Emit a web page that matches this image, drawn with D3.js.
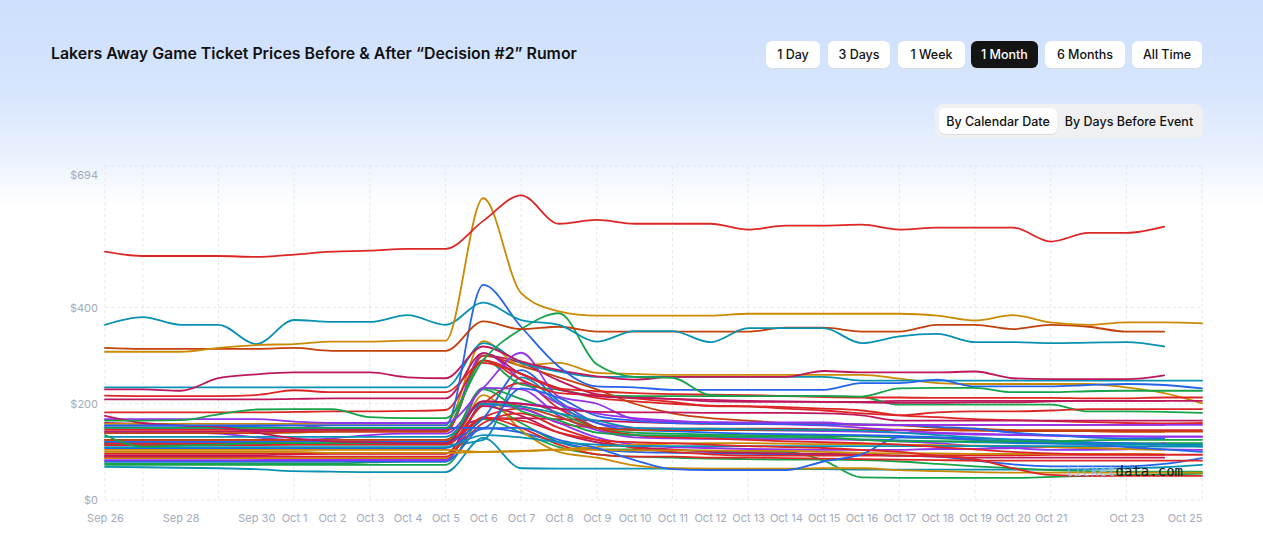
<!DOCTYPE html>
<html><head><meta charset="utf-8">
<script src="https://cdn.jsdelivr.net/npm/d3@7"></script>
<style>
html,body{margin:0;padding:0;width:1263px;height:547px;overflow:hidden;background:#fff;}
svg{display:block;font-family:Inter,"Noto Sans",sans-serif;}
</style></head><body>
<svg id="chart" width="1263" height="547"></svg>
<script>
const dates = ["Sep 26","Sep 27","Sep 28","Sep 29","Sep 30","Oct 1","Oct 2","Oct 3","Oct 4","Oct 5","Oct 6","Oct 7","Oct 8","Oct 9","Oct 10","Oct 11","Oct 12","Oct 13","Oct 14","Oct 15","Oct 16","Oct 17","Oct 18","Oct 19","Oct 20","Oct 21","Oct 22","Oct 23","Oct 24","Oct 25"];
const tickLabels = ["Sep 26","Sep 28","Sep 30","Oct 1","Oct 2","Oct 3","Oct 4","Oct 5","Oct 6","Oct 7","Oct 8","Oct 9","Oct 10","Oct 11","Oct 12","Oct 13","Oct 14","Oct 15","Oct 16","Oct 17","Oct 18","Oct 19","Oct 20","Oct 21","Oct 23","Oct 25"];
const gridDates = ["Sep 26","Sep 27","Sep 29","Oct 1","Oct 3","Oct 5","Oct 7","Oct 9","Oct 11","Oct 13","Oct 15","Oct 17","Oct 19","Oct 21","Oct 23","Oct 25"];
const yTicks = [0,200,400,694];
const yMax = 694;
const rangeButtons = ["1 Day","3 Days","1 Week","1 Month","6 Months","All Time"];
const activeRange = "1 Month";
const viewButtons = ["By Calendar Date","By Days Before Event"];
const title = "Lakers Away Game Ticket Prices Before & After \u201cDecision #2\u201d Rumor";

const palette = {red:"#dc2626",gold:"#ca8a04",teal:"#0891b2",orange:"#c2410c",green:"#16a34a",blue:"#2563eb",crimson:"#be185d",purple:"#9333ea"};

const s01 = [516,507,507,507,505,510,516,518,522,522,580,633,574,582,574,574,574,562,570,570,572,562,566,566,566,537,555,555,568,null];
const s02 = [308,308,308,316,322,324,329,329,331,331,627,430,392,383,383,383,383,387,387,387,387,387,383,373,384,369,364,369,369,367];
const s03 = [364,380,364,364,324,374,370,370,384,364,410,374,364,329,351,351,328,357,357,357,326,340,345,328,328,326,327,328,319,null];
const s04 = [316,314,314,314,314,316,310,310,310,310,371,355,360,350,350,350,350,350,358,358,350,350,364,364,355,364,360,350,350,null];
const s05 = [165,165,166,178,188,189,189,172,170,170,291,355,388,282,256,254,218,216,216,216,215,232,233,233,224,224,226,227,227,227];
const s06 = [155,155,155,155,155,155,155,155,155,155,447,360,277,236,234,229,229,229,229,229,243,243,250,236,236,236,239,241,239,232];
const s07 = [230,230,227,253,261,265,265,265,255,253,319,288,270,257,250,256,256,256,256,268,265,265,265,267,253,251,251,251,259,null];
const s08 = [234,234,234,234,234,234,234,234,234,234,326,285,267,256,256,256,256,256,256,256,248,248,248,248,248,248,248,248,248,248];
const s09 = [217,216,216,216,218,228,224,224,224,224,285,262,232,226,222,220,219,218,216,214,213,213,212,212,212,212,211,211,213,213];
const s10 = [209,209,209,209,209,210,211,211,211,211,305,262,230,216,212,210,208,206,205,204,203,202,202,203,203,205,206,206,206,206];
const s11 = [182,182,182,182,182,183,184,184,185,187,290,250,222,218,211,204,195,194,190,186,180,176,182,184,184,186,189,189,189,189];
const s12 = [175,160,155,152,140,128,122,120,118,118,205,200,190,183,182,182,181,181,181,180,176,165,165,165,165,165,165,165,165,165];
const s13 = [168,168,168,168,168,163,160,160,160,160,233,306,215,200,168,163,162,161,161,161,156,156,156,156,156,156,156,156,156,156];
const s14 = [150,150,150,150,150,150,150,150,150,150,290,240,229,217,216,216,216,216,216,216,214,198,198,198,198,198,184,184,183,181];
const s15 = [158,158,158,158,158,158,158,158,158,158,330,280,285,264,262,260,260,260,260,260,260,252,243,241,241,241,241,234,222,201];
const s16 = [154,154,154,154,152,150,150,150,150,150,150,232,212,175,165,160,159,158,158,157,157,156,152,148,140,135,130,128,128,null];
const s17 = [150,150,150,150,155,155,150,150,148,148,305,250,200,180,170,165,160,158,157,155,150,145,140,138,136,134,133,132,132,132];
const s18 = [139,139,139,139,139,140,142,142,142,142,300,278,255,230,200,180,170,165,160,158,156,155,150,148,145,144,143,142,142,null];
const s19 = [135,111,113,115,118,118,118,118,118,118,230,185,165,140,135,134,133,132,131,130,125,122,122,122,122,122,124,125,125,125];
const s20 = [131,131,131,131,131,131,131,131,131,131,200,194,180,165,150,148,148,147,146,146,144,140,135,130,125,120,117,116,115,111];
const s21 = [125,125,125,125,125,125,125,125,125,125,205,195,172,150,145,145,145,145,145,145,145,145,145,144,143,143,143,142,142,142];
const s22 = [121,121,121,121,121,122,122,122,122,122,170,270,205,160,145,143,140,138,137,136,135,133,130,125,120,118,115,110,105,100];
const s23 = [118,118,118,118,118,117,116,116,116,116,200,243,190,150,135,130,128,125,122,120,118,115,110,105,100,97,95,95,94,94];
const s24 = [114,114,114,114,114,115,115,115,115,115,170,165,140,125,120,118,115,112,110,108,104,100,92,85,66,52,50,50,50,50];
const s25 = [110,110,110,110,110,110,110,110,110,110,135,130,120,115,112,112,112,112,112,112,112,112,112,112,112,112,112,112,111,111];
const s26 = [108,108,108,108,108,108,108,108,108,108,148,150,125,108,83,64,62,62,62,80,95,130,130,128,126,124,120,118,115,112];
const s27 = [104,104,104,104,104,104,104,104,104,104,100,101,105,110,115,117,118,118,117,116,116,115,114,113,112,110,108,106,104,null];
const s28 = [100,100,100,100,100,100,98,98,98,98,100,102,104,104,103,103,103,102,102,100,98,97,97,96,96,96,96,96,95,null];
const s29 = [97,97,97,97,97,97,97,97,97,97,160,180,150,125,108,100,95,92,92,92,92,92,93,93,93,94,94,94,94,null];
const s30 = [93,93,93,93,93,95,96,96,96,96,195,175,140,120,110,105,100,98,97,96,95,92,90,88,88,88,88,88,88,null];
const s31 = [90,90,90,90,90,90,90,90,90,90,172,150,115,95,90,90,88,88,87,86,85,84,83,82,82,82,82,82,82,82];
const s32 = [87,87,87,87,87,87,87,87,87,87,218,145,100,88,72,66,65,65,65,66,66,62,60,58,57,57,57,57,57,57];
const s33 = [83,83,83,83,83,83,83,83,83,83,198,190,160,130,115,110,108,106,105,104,104,104,106,106,108,110,108,106,105,104];
const s34 = [80,80,80,80,80,80,80,80,80,80,150,140,120,105,100,98,97,96,95,94,94,92,90,82,74,70,70,70,75,87];
const s35 = [76,76,76,76,76,76,76,78,80,80,200,160,120,105,105,104,102,100,100,82,47,46,46,46,46,48,50,52,53,55];
const s36 = [73,73,73,73,73,73,73,73,73,73,168,140,110,95,90,88,86,85,84,84,83,80,75,70,66,62,60,59,59,59];
const s37 = [69,68,67,66,64,60,59,58,58,58,129,66,65,65,65,65,64,64,64,64,63,63,63,63,63,63,64,66,68,73];
const s38 = [88,88,88,88,86,84,84,84,84,84,233,230,175,145,130,128,127,127,126,126,125,122,118,112,108,104,104,105,118,null];
const s39 = [125,125,125,125,125,124,122,122,122,122,172,190,160,150,148,148,148,148,148,147,146,146,145,145,145,145,145,145,145,145];
const s40 = [115,115,115,115,115,115,115,115,115,115,125,255,200,150,135,133,131,130,128,127,126,124,122,120,118,117,116,115,115,115];
const s41 = [140,140,140,138,130,125,128,135,138,138,205,200,190,160,150,148,146,145,144,143,142,140,138,136,135,134,133,132,131,131];
const s42 = [118,118,118,118,118,118,118,118,118,118,233,210,180,150,140,138,136,135,134,133,132,130,128,125,122,120,119,118,118,118];
const s43 = [160,158,155,150,146,146,146,146,146,146,168,170,168,165,162,160,158,158,158,158,157,156,156,156,156,156,156,156,156,null];
const s44 = [146,146,146,146,146,146,146,146,146,146,290,262,232,212,205,200,196,195,193,190,186,176,172,168,166,164,162,160,159,160];
const s45 = [142,142,142,142,142,142,142,142,142,142,300,285,248,220,214,210,205,204,204,204,204,206,206,206,206,206,206,206,206,null];

const seriesList = [
  [s45,"crimson"],[s44,"red"],[s43,"crimson"],[s42,"green"],[s41,"purple"],[s40,"teal"],[s39,"red"],[s38,"purple"],
  [s37,"teal"],[s36,"green"],[s35,"green"],[s34,"blue"],[s33,"purple"],[s32,"gold"],[s31,"red"],[s30,"crimson"],
  [s29,"red"],[s28,"gold"],[s27,"gold"],[s26,"blue"],[s25,"teal"],[s24,"red"],[s23,"red"],[s22,"blue"],
  [s21,"orange"],[s20,"teal"],[s19,"green"],[s18,"orange"],[s17,"purple"],[s16,"blue"],[s15,"gold"],[s14,"green"],
  [s13,"purple"],[s12,"crimson"],[s11,"red"],[s10,"crimson"],[s09,"red"],[s08,"teal"],[s07,"crimson"],[s06,"blue"],
  [s05,"green"],[s04,"orange"],[s03,"teal"],[s02,"gold"],[s01,"red"]
];

const W = 1263, H = 547;
const svg = d3.select("#chart");
const defs = svg.append("defs");
const grad = defs.append("linearGradient").attr("id","bg").attr("x1",0).attr("y1",0).attr("x2",0).attr("y2",1);
grad.append("stop").attr("offset","0%").attr("stop-color","#cddffc");
grad.append("stop").attr("offset","18%").attr("stop-color","#d8e6fd");
grad.append("stop").attr("offset","28%").attr("stop-color","#e9f1fe");
grad.append("stop").attr("offset","38%").attr("stop-color","#ffffff");
svg.append("rect").attr("width",W).attr("height",H).attr("fill","url(#bg)");

const x = d3.scalePoint().domain(dates).range([105, 1202]);
const y = d3.scaleLinear().domain([0, yMax]).range([500, 166]);

// grid
const grid = svg.append("g");
grid.selectAll("line.v").data(gridDates).join("line")
  .attr("x1", d => x(d)).attr("x2", d => x(d)).attr("y1", y(yMax)).attr("y2", y(0))
  .attr("stroke","#e3e6ec").attr("stroke-dasharray","3,3").attr("stroke-width",1);
grid.selectAll("line.h").data(yTicks).join("line")
  .attr("x1", 105).attr("x2", 1202).attr("y1", d => y(d)).attr("y2", d => y(d))
  .attr("stroke","#e3e6ec").attr("stroke-dasharray","3,3").attr("stroke-width",1);

// y labels
const yAxis = d3.axisLeft(y).tickValues(yTicks).tickSize(0).tickFormat(d => "$" + d);
const ya = svg.append("g").attr("transform","translate(98,0)").call(yAxis);
ya.select(".domain").remove();
ya.selectAll("text").attr("fill","#a3abb9").attr("font-size","11px").attr("font-family","Inter,sans-serif")
  .attr("dy", d => d === yMax ? "1.1em" : "0.32em").attr("x",0);

// x labels
const xAxis = d3.axisBottom(x).tickValues(tickLabels).tickSize(0);
const xa = svg.append("g").attr("transform","translate(0,511)").call(xAxis);
xa.select(".domain").remove();
xa.selectAll("text").attr("fill","#a3abb9").attr("font-size","11px").attr("font-family","Inter,sans-serif")
  .attr("text-anchor", d => d === "Oct 25" ? "end" : "middle");

// lines
const line = d3.line().defined(d => d != null).x((d,i) => x(dates[i])).y(d => y(d)).curve(d3.curveMonotoneX);
svg.append("g").selectAll("path").data(seriesList).join("path")
  .attr("d", d => line(d[0])).attr("fill","none").attr("stroke", d => palette[d[1]])
  .attr("stroke-width",1.8).attr("stroke-linejoin","round").attr("stroke-linecap","round");

// watermark
const wm = svg.append("text").attr("x",1065).attr("y",476).attr("font-family","'DejaVu Sans Mono',monospace").attr("font-size","14px");
wm.append("tspan").attr("fill","#8fb3f4").attr("fill-opacity",0.9).text("ticket");
wm.append("tspan").attr("fill","#111").text("data.com");

// title
const t = svg.append("text").attr("x",51).attr("y",59).attr("font-size","15px").attr("font-weight",600).attr("fill","#111").text(title);
const tl = t.node().getComputedTextLength();
if (tl > 0) t.attr("font-size", (15 * 526 / tl).toFixed(2) + "px");

// range buttons
const btnX = [766,828,898,971,1045,1132];
const btnW = [54,62,67,67,80,70];
const bg = svg.append("g");
rangeButtons.forEach((b,i) => {
  const g = bg.append("g").attr("transform",`translate(${btnX[i]},41)`);
  const act = b === activeRange;
  g.append("rect").attr("y",1).attr("width",btnW[i]).attr("height",27).attr("rx",6).attr("fill","#d7dbe2");
  g.append("rect").attr("width",btnW[i]).attr("height",27).attr("rx",6).attr("fill", act ? "#141414" : "#ffffff");
  g.append("text").attr("x",btnW[i]/2).attr("y",18).attr("text-anchor","middle").attr("font-size","12.5px")
    .attr("font-weight",500).attr("fill", act ? "#fff" : "#111").text(b);
});

// view toggle
const vg = svg.append("g");
vg.append("rect").attr("x",935).attr("y",104).attr("width",268).attr("height",34).attr("rx",8).attr("fill","#eff0f2");
vg.append("rect").attr("x",939).attr("y",109).attr("width",118).attr("height",26).attr("rx",6).attr("fill","#d9dce1");
vg.append("rect").attr("x",939).attr("y",108).attr("width",118).attr("height",26).attr("rx",6).attr("fill","#ffffff");
vg.append("text").attr("x",998).attr("y",126).attr("text-anchor","middle").attr("font-size","12.5px").attr("font-weight",500).attr("fill","#111").text(viewButtons[0]);
vg.append("text").attr("x",1129).attr("y",126).attr("text-anchor","middle").attr("font-size","12.5px").attr("font-weight",500).attr("fill","#111").text(viewButtons[1]);
</script>
</body></html>
